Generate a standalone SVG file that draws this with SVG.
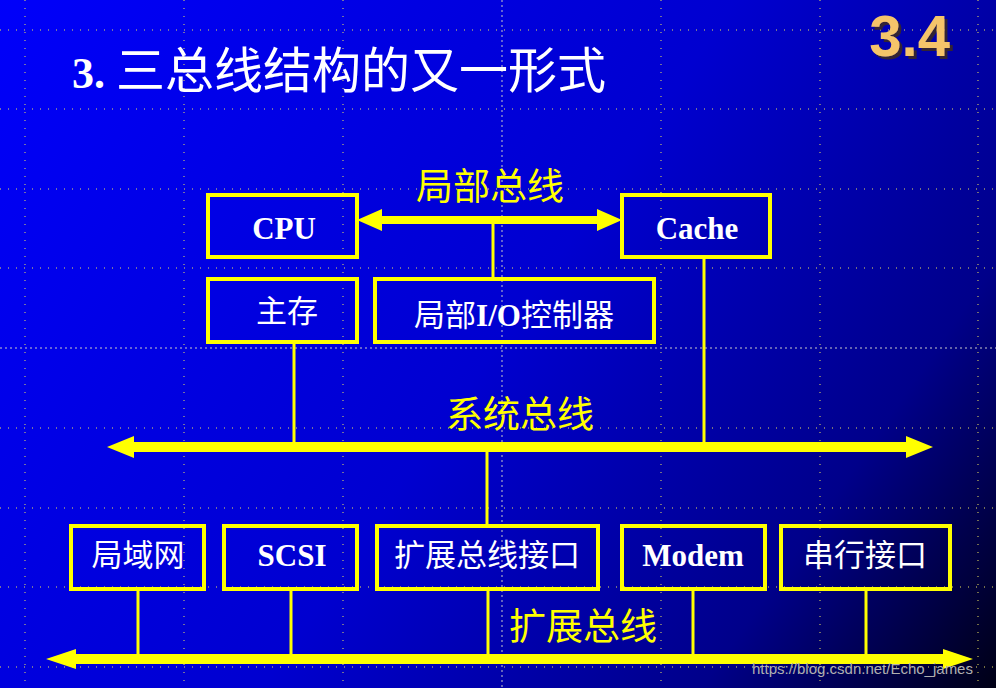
<svg xmlns="http://www.w3.org/2000/svg" width="996" height="688" viewBox="0 0 996 688">
<defs>
<linearGradient id="bg" x1="0" y1="0" x2="996" y2="688" gradientUnits="userSpaceOnUse">
<stop offset="0" stop-color="#0000fa"/>
<stop offset="0.5" stop-color="#0000d0"/>
<stop offset="0.8" stop-color="#00008a"/>
<stop offset="1" stop-color="#000015"/>
</linearGradient>
<filter id="sh" x="-10%" y="-10%" width="130%" height="130%"><feDropShadow dx="3" dy="3" stdDeviation="0.5" flood-color="#4a3500" flood-opacity="0.7"/></filter>
<style>
.grid{stroke:#e8e060;stroke-width:1;stroke-dasharray:1 7}
.gridc{stroke:#c8c8c8;stroke-width:1;stroke-dasharray:2 3}
.box{fill:none;stroke:#ffff00;stroke-width:4}
.wire{stroke:#ffff00;stroke-width:3;fill:none}
.bus{fill:#ffff00}
.lbl{font-family:"Liberation Serif","Noto Sans CJK SC",serif;font-size:31px;fill:#fff;text-anchor:middle}
.en{font-weight:bold}
.ylbl{font-family:"Liberation Serif","Noto Sans CJK SC",serif;font-size:37px;fill:#ffff00;text-anchor:middle}
</style>
</defs>
<rect width="996" height="688" fill="url(#bg)"/>
<g id="grid">
<line class="grid" x1="0" y1="30" x2="996" y2="30"/>
<line class="grid" x1="0" y1="109" x2="996" y2="109"/>
<line class="grid" x1="0" y1="189" x2="996" y2="189"/>
<line class="grid" x1="0" y1="268" x2="996" y2="268"/>
<line class="gridc" x1="0" y1="348" x2="996" y2="348"/>
<line class="grid" x1="0" y1="428" x2="996" y2="428"/>
<line class="grid" x1="0" y1="508" x2="996" y2="508"/>
<line class="grid" x1="0" y1="587" x2="996" y2="587"/>
<line class="grid" x1="0" y1="667" x2="996" y2="667"/>
<line class="grid" x1="25" y1="0" x2="25" y2="688"/>
<line class="grid" x1="184" y1="0" x2="184" y2="688"/>
<line class="grid" x1="343" y1="0" x2="343" y2="688"/>
<line class="gridc" x1="502" y1="0" x2="502" y2="688"/>
<line class="grid" x1="661" y1="0" x2="661" y2="688"/>
<line class="grid" x1="820" y1="0" x2="820" y2="688"/>
<line class="grid" x1="978" y1="0" x2="978" y2="688"/>
</g>
<text x="72" y="88" font-family="Liberation Serif,'Noto Sans CJK SC',serif" font-size="44" font-weight="bold" fill="#fff">3. <tspan font-weight="normal" font-size="49">三总线结构的又一形式</tspan></text>
<text x="950" y="56" text-anchor="end" font-family="Liberation Sans,Arial,sans-serif" font-size="58" font-weight="bold" fill="#f5c46a" filter="url(#sh)">3.4</text>
<g id="connectors">
<polygon class="bus" points="357,220 382,209 382,216 597,216 597,209 622,220 597,231 597,224 382,224 382,231"/>
<line class="wire" x1="493" y1="224" x2="493" y2="279"/>
<polygon class="bus" points="107,447 134,436 134,442 906,442 906,436 933,447 906,458 906,452 134,452 134,458"/>
<line class="wire" x1="294" y1="342" x2="294" y2="442"/>
<line class="wire" x1="704" y1="257" x2="704" y2="442"/>
<line class="wire" x1="487" y1="452" x2="487" y2="526"/>
<polygon class="bus" points="46,659 76,649 76,654 943,654 943,649 973,659 943,669 943,664 76,664 76,669"/>
<line class="wire" x1="138" y1="589" x2="138" y2="654"/>
<line class="wire" x1="291" y1="589" x2="291" y2="654"/>
<line class="wire" x1="488" y1="589" x2="488" y2="654"/>
<line class="wire" x1="693" y1="589" x2="693" y2="654"/>
<line class="wire" x1="866" y1="589" x2="866" y2="654"/>
<text class="ylbl" x="490" y="200">局部总线</text>
<text class="ylbl" x="520" y="428">系统总线</text>
<text class="ylbl" x="583" y="640">扩展总线</text>
</g>
<g id="cpu"><rect class="box" x="208" y="195" width="149" height="62"/><text class="lbl en" x="284" y="239">CPU</text></g>
<g id="cache"><rect class="box" x="622" y="195" width="148" height="62"/><text class="lbl en" x="697" y="239">Cache</text></g>
<g id="mem"><rect class="box" x="208" y="279" width="149" height="63"/><text class="lbl" x="287" y="322">主存</text></g>
<g id="lio"><rect class="box" x="375" y="279" width="279" height="63"/><text class="lbl" x="514" y="326">局部<tspan class="en">I/O</tspan>控制器</text></g>
<g id="lan"><rect class="box" x="71" y="526" width="133" height="63"/><text class="lbl" x="138" y="566">局域网</text></g>
<g id="scsi"><rect class="box" x="224" y="526" width="133" height="63"/><text class="lbl en" x="292" y="566">SCSI</text></g>
<g id="ebi"><rect class="box" x="377" y="526" width="221" height="63"/><text class="lbl" x="487" y="566">扩展总线接口</text></g>
<g id="modem"><rect class="box" x="622" y="526" width="143" height="63"/><text class="lbl en" x="693" y="566">Modem</text></g>
<g id="serial"><rect class="box" x="781" y="526" width="169" height="63"/><text class="lbl" x="865" y="566">串行接口</text></g>
<text x="752" y="674" font-family="Liberation Sans,sans-serif" font-size="15" fill="#b0b0b0">https://blog.csdn.net/Echo_james</text>
</svg>
